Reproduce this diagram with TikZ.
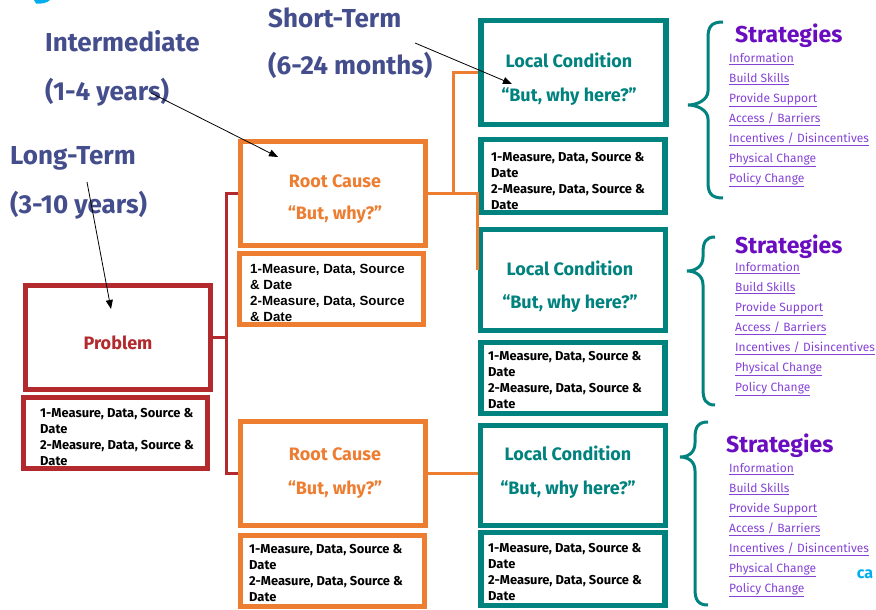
\documentclass[tikz,border=0pt]{standalone}
\usepackage{fontspec}
\setmainfont{Fira Sans}
\newfontfamily\arialfont{Liberation Sans}
\usetikzlibrary{arrows.meta}
\definecolor{cred}{HTML}{B22A2E}
\definecolor{corange}{HTML}{ED7D31}
\definecolor{cteal}{HTML}{00827F}
\definecolor{cslate}{HTML}{454E8C}
\definecolor{cpurple}{HTML}{6A0DC0}
\definecolor{clink}{HTML}{8543D6}
\definecolor{ccyan}{HTML}{00AEEF}
\tikzset{
  bigbox/.style={draw, line width=5pt, fill=white, minimum width=185pt, minimum height=104pt, inner sep=0pt},
  measbox/.style={draw, line width=5pt, fill=white, minimum width=184pt, minimum height=71pt, inner sep=0pt},
  boxtext/.style={inner sep=0pt, align=center, font=\bfseries\fontsize{18}{33}\selectfont},
  meastext/.style={anchor=west, inner sep=0pt, align=left, text=black, font=\bfseries\fontsize{12.9}{16}\selectfont},
  timelabel/.style={anchor=base west, text=cslate, font=\bfseries\fontsize{26}{30}\selectfont, inner sep=0pt},
  redline/.style={draw=cred, line width=3pt},
  orangeline/.style={draw=corange, line width=3pt},
  pointer/.style={draw=black, line width=0.8pt, -{Triangle[length=9pt,width=7pt]}},
  bracestyle/.style={draw=cteal, line width=3pt},
  strattitle/.style={anchor=west, text=cpurple, font=\bfseries\fontsize{23}{26}\selectfont, inner sep=0pt},
  stratlist/.style={anchor=north west, text=clink, font=\fontsize{12}{20}\selectfont, align=left, inner sep=0pt},
}
\newcommand{\stratbrace}[6]{% xtip xv xe ytop ytip ybot
  \draw[bracestyle] (#3,#4) .. controls (#2+3,#4) and (#2,#4+5) .. (#2,#4+16)
    -- (#2,#5-14) .. controls (#2,#5-5) and (#1+9,#5) .. (#1,#5)
    .. controls (#1+9,#5) and (#2,#5+5) .. (#2,#5+14)
    -- (#2,#6-16) .. controls (#2,#6-5) and (#2+3,#6) .. (#3,#6);}
\newcommand{\stratitems}{\underline{Information}\\\underline{Build Skills}\\\underline{Provide Support}\\\underline{Access / Barriers}\\\underline{Incentives / Disincentives}\\\underline{Physical Change}\\\underline{Policy Change}}
\newcommand{\meastwo}{1-Measure, Data, Source \&\\Date\\2-Measure, Data, Source \&\\Date}
\begin{document}
\begin{tikzpicture}[x=1pt,y=-1pt]
\useasboundingbox[fill=white] (0,0) rectangle (876,610);
% cut-off glyph at top left
\fill[ccyan] (34,0) -- (50,0) .. controls (47,3) and (42,4) .. (36,3.5) -- cycle;

% time labels
\node[timelabel] (st1) at (268,28) {Short-Term};
\node[timelabel] (st2) at (268,75) {(6-24 months)};
\node[timelabel] (im1) at (45,52) {Intermediate};
\node[timelabel] (im2) at (45,100) {(1-4 years)};
\node[timelabel] (lt1) at (10,164) {Long-Term};
\node[timelabel] (lt2) at (10,213) {(3-10 years)};

% boxes
\node[bigbox, draw=cred] (P) at (117.5,337.5) {};
\node[boxtext, text=cred] (Pt) at (118,342.5) {Problem};
\node[measbox, draw=cred] (PM) at (115.5,433) {};
\node[meastext] (PMt) at (40,437) {\meastwo};

\node[bigbox, draw=corange] (RC1) at (333,193.5) {};
\node[boxtext, text=corange, font=\bfseries\fontsize{18}{32}\selectfont] (RC1t) at (335,199) {Root Cause\\“But, why?”};
\node[measbox, draw=corange] (RC1M) at (331.5,289) {};
\node[meastext, font=\arialfont\bfseries\fontsize{13.3}{16}\selectfont] (RC1Mt) at (250,293) {1-Measure, Data, Source\\\& Date\\2-Measure, Data, Source\\\& Date};

\node[bigbox, draw=corange] (RC2) at (333,473.5) {};
\node[boxtext, text=corange, font=\bfseries\fontsize{18}{34}\selectfont] (RC2t) at (335,473) {Root Cause\\“But, why?”};
\node[measbox, draw=corange] (RC2M) at (332.5,571) {};
\node[meastext] (RC2Mt) at (249,573) {\meastwo};

\node[bigbox, draw=cteal, line width=5.5pt] (LC1) at (573.5,72.5) {};
\node[boxtext, text=cteal, font=\bfseries\fontsize{18}{34}\selectfont] (LC1t) at (569,79) {Local Condition\\“But, why here?”};
\node[measbox, draw=cteal, line width=5.5pt, minimum height=73pt] (LC1M) at (573,176) {};
\node[meastext] (LC1Mt) at (491,181) {\meastwo};

\node[bigbox, draw=cteal, line width=5.5pt, minimum height=101pt] (LC2) at (573,280) {};
\node[boxtext, text=cteal, font=\bfseries\fontsize{18}{33}\selectfont] (LC2t) at (570,287) {Local Condition\\“But, why here?”};
\node[measbox, draw=cteal, line width=5.5pt] (LC2M) at (573,378) {};
\node[meastext] (LC2Mt) at (488,380.5) {\meastwo};

\node[bigbox, draw=cteal, line width=5.5pt, minimum height=100pt] (LC3) at (573,475.5) {};
\node[boxtext, text=cteal, font=\bfseries\fontsize{18}{34}\selectfont] (LC3t) at (568,472.5) {Local Condition\\“But, why here?”};
\node[measbox, draw=cteal, line width=5.5pt, minimum height=73pt] (LC3M) at (573,569) {};
\node[meastext] (LC3Mt) at (488,572) {\meastwo};

% red connectors
\coordinate (rj) at (226,337.5);
\draw[redline] (RC1.west) -| (rj |- RC2.west) -- (RC2.west);
\draw[redline] (P.east) -- (rj);

% orange connectors
\coordinate (oj) at (453,193.5);
\coordinate (oend) at (477,270);
\draw[orangeline] (RC1.east) -- (oend |- RC1.east) -- (oend);
\draw[orangeline] (oj) |- (LC1.west);
\draw[orangeline] (RC2.east) -- (RC2.east -| LC3.west);

% pointer arrows
\coordinate (a1s) at (415,43);
\coordinate (a1e) at (512,84);
\coordinate (a2s) at (151,93);
\coordinate (a2e) at (278,157);
\coordinate (a3s) at (87,182);
\coordinate (a3e) at (111,309);
\draw[pointer] (a1s) -- (a1e);
\draw[pointer] (a2s) -- (a2e);
\draw[pointer] (a3s) -- (a3e);

% strategies
\stratbrace{688}{708}{723}{22}{105}{198}
\node[strattitle] (S1) at (735,35.5) {Strategies};
\node[stratlist] (S1L) at (729,53) {\stratitems};

\stratbrace{687}{703}{715}{237}{271}{405}
\node[strattitle] (S2) at (735,246.5) {Strategies};
\node[stratlist] (S2L) at (735,262) {\stratitems};

\stratbrace{680}{695}{708}{422}{457}{605}
\node[strattitle] (S3) at (726,445.5) {Strategies};
\node[stratlist] (S3L) at (729,463) {\stratitems};

\node[text=ccyan, font=\bfseries\fontsize{16}{18}\selectfont, inner sep=0pt] (ca) at (865,574) {ca};
\end{tikzpicture}
\end{document}
